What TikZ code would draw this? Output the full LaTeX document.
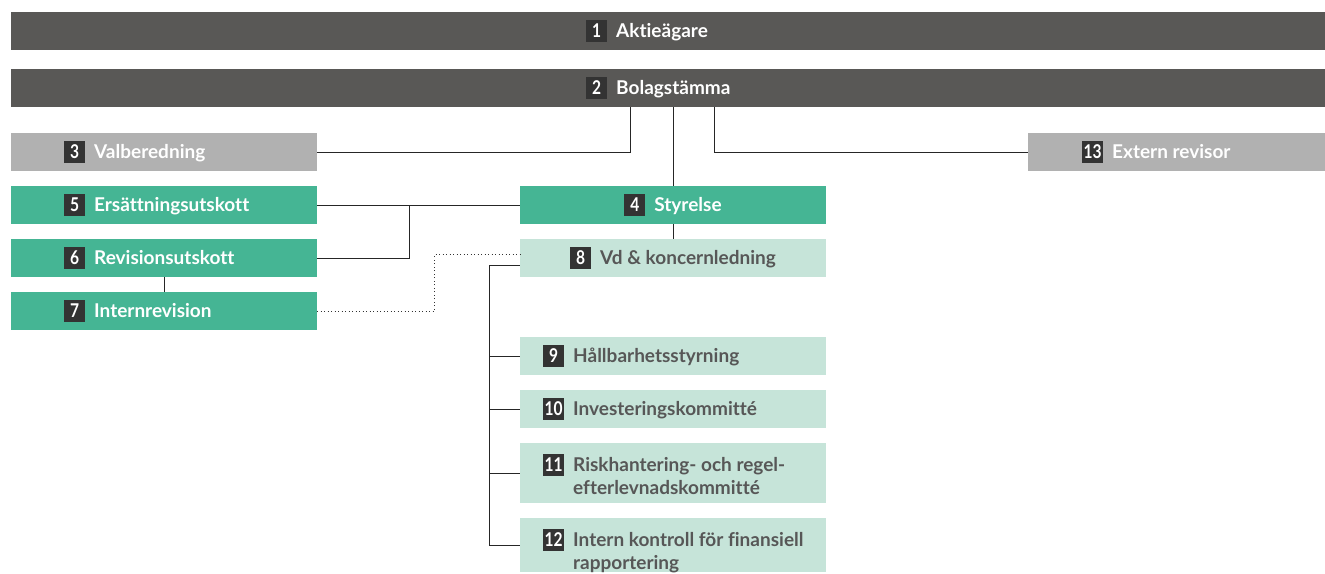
\documentclass[tikz,border=0pt]{standalone}
\usepackage{fontspec}
\usepackage{graphicx}
\setmainfont{Lato}[Ligatures=NoCommon]
\usetikzlibrary{calc}
\definecolor{bardark}{HTML}{595856}
\definecolor{boxgray}{HTML}{B1B1B1}
\definecolor{boxgreen}{HTML}{45B594}
\definecolor{boxlight}{HTML}{C6E4D9}
\definecolor{numbg}{HTML}{333333}
\definecolor{txtgray}{HTML}{575757}
\newcommand\nb[1]{{\setlength\fboxsep{0pt}\colorbox{numbg}{\makebox[21pt]{\rule[-5pt]{0pt}{22pt}\color{white}\scalebox{0.82}[1]{#1}}}}\hspace{9pt}}
\tikzset{
  box/.style={rectangle, inner sep=0pt, minimum height=38pt},
  darkbar/.style={box, fill=bardark, minimum width=1314pt},
  graybox/.style={box, fill=boxgray, minimum width=306pt},
  greenbox/.style={box, fill=boxgreen, minimum width=306pt},
  lightbox/.style={box, fill=boxlight, minimum width=306pt},
  lbl/.style={inner sep=0pt, anchor=west, text=white, font=\fontsize{19}{23}\selectfont\bfseries},
  lbldark/.style={lbl, text=txtgray},
  conn/.style={draw=black!85, line width=0.9pt},
  dotconn/.style={draw=black!80, line width=1pt, dash pattern=on 1pt off 2.5pt}
}
\begin{document}
\begin{tikzpicture}[x=1pt,y=-1pt]
\useasboundingbox (0,0) rectangle (1325,573);
% boxes
\node[darkbar] (b1) at (668,31) {};
\node[darkbar] (b2) at (668,88) {};
\node[graybox] (b3) at (164,152) {};
\node[greenbox] (b5) at (164,205) {};
\node[greenbox] (b6) at (164,258) {};
\node[greenbox] (b7) at (164,311) {};
\node[greenbox] (b4) at (673,205) {};
\node[lightbox] (b8) at (673,258) {};
\node[lightbox] (b9) at (673,356) {};
\node[lightbox] (b10) at (673,409) {};
\node[lightbox, minimum height=60pt] (b11) at (673,473) {};
\node[lightbox, minimum height=54pt] (b12) at (673,545) {};
\node[box, fill=boxgray, minimum width=297pt] (b13) at (1176.5,152) {};
% labels
\node[lbl] (l1) at (586,31) {\nb{1}Aktieägare};
\node[lbl] (l2) at (586,88) {\nb{2}Bolagstämma};
\node[lbl] (l3) at (64,152) {\nb{3}Valberedning};
\node[lbl] (l5) at (64,205) {\nb{5}Ersättningsutskott};
\node[lbl] (l6) at (64,258) {\nb{6}Revisionsutskott};
\node[lbl] (l7) at (64,311) {\nb{7}Internrevision};
\node[lbl, anchor=center] (l4) at (b4.center) {\nb{4}Styrelse};
\node[lbldark, anchor=center] (l8) at (b8.center) {\nb{8}Vd \& koncernledning};
\node[lbldark] (l9) at (543,356) {\nb{9}Hållbarhetsstyrning};
\node[lbldark] (l10) at (543,409) {\nb{10}Investeringskommitté};
\node[lbldark, anchor=base west] (l11) at (543,471) {\nb{11}\parbox[t]{250pt}{Riskhantering- och regel-\\efterlevnadskommitté}};
\node[lbldark, anchor=base west] (l12) at (543,546) {\nb{12}\parbox[t]{250pt}{Intern kontroll för finansiell\\rapportering}};
\node[lbl] (l13) at (1082,152) {\nb{13}Extern revisor};
% connectors
\draw[conn] (b3.east) -| ([xshift=-38pt]b2.south);
\draw[conn] (b13.west) -| ([xshift=46pt]b2.south);
\draw[conn] (b2.south -| b4.north) -- (b4.north);
\draw[conn] (b5.east) -- (b4.west);
\draw[conn] (b6.east) -| ([xshift=92pt]b5.east);
\draw[conn] (b6.south) -- (b7.north);
\draw[conn] (b4.south) -- (b8.north);
\draw[dotconn] (b7.east) -| ([xshift=-85pt,yshift=3.5pt]b8.west) -- ([yshift=3.5pt]b8.west);
\draw[conn] ([yshift=-7pt]b8.west) -| ([xshift=-30pt]b12.west) -- (b12.west);
\draw[conn] ([xshift=-30pt]b9.west) -- (b9.west);
\draw[conn] ([xshift=-30pt]b10.west) -- (b10.west);
\draw[conn] ([xshift=-30pt]b11.west) -- (b11.west);
\end{tikzpicture}
\end{document}
